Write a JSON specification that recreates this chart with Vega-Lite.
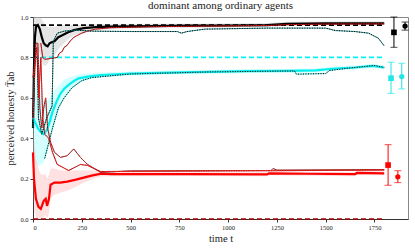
{
  "$schema": "https://vega.github.io/schema/vega-lite/v6.json",
  "width": 375,
  "height": 202,
  "autosize": "none",
  "padding": {"left": 33, "top": 17, "right": 7, "bottom": 30},
  "title": {"text": "dominant among ordinary agents", "font": "Liberation Serif", "fontSize": 11, "fontWeight": "normal", "color": "#222", "offset": 3},
  "config": {
    "view": {"stroke": "#888"},
    "axis": {"labelFont": "Liberation Serif", "labelFontSize": 6.5, "titleFont": "Liberation Serif", "titleFontSize": 10.5, "titleFontWeight": "normal", "domainColor": "#333", "tickColor": "#333", "tickSize": 3, "grid": false, "labelColor": "#222", "titleColor": "#222", "labelPadding": 2}
  },
  "datasets": {
    "lines": [
      {"s": "k_mean", "t": 0, "v": 0.45, "lo": 0.35, "hi": 1.0},
      {"s": "k_mean", "t": 5, "v": 0.75, "lo": 0.55, "hi": 1.0},
      {"s": "k_mean", "t": 10, "v": 0.9, "lo": 0.75, "hi": 1.0},
      {"s": "k_mean", "t": 15, "v": 0.95, "lo": 0.82, "hi": 1.0},
      {"s": "k_mean", "t": 25, "v": 0.96, "lo": 0.84, "hi": 1.0},
      {"s": "k_mean", "t": 35, "v": 0.94, "lo": 0.82, "hi": 1.0},
      {"s": "k_mean", "t": 45, "v": 0.9, "lo": 0.78, "hi": 0.99},
      {"s": "k_mean", "t": 55, "v": 0.87, "lo": 0.76, "hi": 0.97},
      {"s": "k_mean", "t": 65, "v": 0.86, "lo": 0.76, "hi": 0.96},
      {"s": "k_mean", "t": 75, "v": 0.855, "lo": 0.77, "hi": 0.95},
      {"s": "k_mean", "t": 85, "v": 0.87, "lo": 0.79, "hi": 0.95},
      {"s": "k_mean", "t": 95, "v": 0.875, "lo": 0.8, "hi": 0.95},
      {"s": "k_mean", "t": 110, "v": 0.88, "lo": 0.81, "hi": 0.95},
      {"s": "k_mean", "t": 130, "v": 0.9, "lo": 0.84, "hi": 0.955},
      {"s": "k_mean", "t": 150, "v": 0.91, "lo": 0.86, "hi": 0.96},
      {"s": "k_mean", "t": 180, "v": 0.925, "lo": 0.89, "hi": 0.96},
      {"s": "k_mean", "t": 210, "v": 0.935, "lo": 0.91, "hi": 0.96},
      {"s": "k_mean", "t": 260, "v": 0.945, "lo": 0.925, "hi": 0.962},
      {"s": "k_mean", "t": 320, "v": 0.95, "lo": 0.935, "hi": 0.965},
      {"s": "k_mean", "t": 400, "v": 0.952, "lo": 0.94, "hi": 0.965},
      {"s": "k_mean", "t": 600, "v": 0.955, "lo": 0.945, "hi": 0.966},
      {"s": "k_mean", "t": 800, "v": 0.957, "lo": 0.947, "hi": 0.967},
      {"s": "k_mean", "t": 1000, "v": 0.958, "lo": 0.948, "hi": 0.968},
      {"s": "k_mean", "t": 1200, "v": 0.96, "lo": 0.95, "hi": 0.97},
      {"s": "k_mean", "t": 1300, "v": 0.966, "lo": 0.956, "hi": 0.976},
      {"s": "k_mean", "t": 1500, "v": 0.968, "lo": 0.958, "hi": 0.978},
      {"s": "k_mean", "t": 1800, "v": 0.969, "lo": 0.959, "hi": 0.979},
      {"s": "c_mean", "t": 0, "v": 0.5, "lo": 0.3, "hi": 0.75},
      {"s": "c_mean", "t": 10, "v": 0.48, "lo": 0.28, "hi": 0.72},
      {"s": "c_mean", "t": 25, "v": 0.45, "lo": 0.26, "hi": 0.68},
      {"s": "c_mean", "t": 40, "v": 0.43, "lo": 0.27, "hi": 0.62},
      {"s": "c_mean", "t": 55, "v": 0.42, "lo": 0.28, "hi": 0.58},
      {"s": "c_mean", "t": 70, "v": 0.44, "lo": 0.32, "hi": 0.58},
      {"s": "c_mean", "t": 85, "v": 0.48, "lo": 0.38, "hi": 0.6},
      {"s": "c_mean", "t": 100, "v": 0.53, "lo": 0.44, "hi": 0.62},
      {"s": "c_mean", "t": 120, "v": 0.58, "lo": 0.5, "hi": 0.65},
      {"s": "c_mean", "t": 140, "v": 0.62, "lo": 0.56, "hi": 0.67},
      {"s": "c_mean", "t": 160, "v": 0.645, "lo": 0.6, "hi": 0.69},
      {"s": "c_mean", "t": 190, "v": 0.67, "lo": 0.64, "hi": 0.7},
      {"s": "c_mean", "t": 230, "v": 0.695, "lo": 0.67, "hi": 0.715},
      {"s": "c_mean", "t": 280, "v": 0.705, "lo": 0.69, "hi": 0.72},
      {"s": "c_mean", "t": 350, "v": 0.713, "lo": 0.7, "hi": 0.725},
      {"s": "c_mean", "t": 500, "v": 0.72, "lo": 0.71, "hi": 0.73},
      {"s": "c_mean", "t": 700, "v": 0.725, "lo": 0.715, "hi": 0.735},
      {"s": "c_mean", "t": 900, "v": 0.728, "lo": 0.718, "hi": 0.738},
      {"s": "c_mean", "t": 1100, "v": 0.732, "lo": 0.722, "hi": 0.742},
      {"s": "c_mean", "t": 1300, "v": 0.733, "lo": 0.723, "hi": 0.743},
      {"s": "c_mean", "t": 1450, "v": 0.736, "lo": 0.726, "hi": 0.746},
      {"s": "c_mean", "t": 1550, "v": 0.745, "lo": 0.735, "hi": 0.755},
      {"s": "c_mean", "t": 1650, "v": 0.75, "lo": 0.74, "hi": 0.76},
      {"s": "c_mean", "t": 1740, "v": 0.758, "lo": 0.748, "hi": 0.768},
      {"s": "c_mean", "t": 1800, "v": 0.75, "lo": 0.74, "hi": 0.76},
      {"s": "r_mean", "t": 0, "v": 0.33, "lo": 0.15, "hi": 0.5},
      {"s": "r_mean", "t": 5, "v": 0.2, "lo": 0.05, "hi": 0.4},
      {"s": "r_mean", "t": 15, "v": 0.1, "lo": 0.0, "hi": 0.3},
      {"s": "r_mean", "t": 28, "v": 0.06, "lo": 0.0, "hi": 0.25},
      {"s": "r_mean", "t": 40, "v": 0.05, "lo": 0.0, "hi": 0.22},
      {"s": "r_mean", "t": 55, "v": 0.09, "lo": 0.01, "hi": 0.22},
      {"s": "r_mean", "t": 65, "v": 0.1, "lo": 0.02, "hi": 0.22},
      {"s": "r_mean", "t": 72, "v": 0.065, "lo": 0.0, "hi": 0.2},
      {"s": "r_mean", "t": 82, "v": 0.1, "lo": 0.03, "hi": 0.22},
      {"s": "r_mean", "t": 90, "v": 0.17, "lo": 0.1, "hi": 0.25},
      {"s": "r_mean", "t": 110, "v": 0.18, "lo": 0.12, "hi": 0.25},
      {"s": "r_mean", "t": 140, "v": 0.18, "lo": 0.13, "hi": 0.24},
      {"s": "r_mean", "t": 175, "v": 0.185, "lo": 0.14, "hi": 0.24},
      {"s": "r_mean", "t": 220, "v": 0.195, "lo": 0.16, "hi": 0.24},
      {"s": "r_mean", "t": 260, "v": 0.205, "lo": 0.18, "hi": 0.24},
      {"s": "r_mean", "t": 300, "v": 0.215, "lo": 0.195, "hi": 0.24},
      {"s": "r_mean", "t": 350, "v": 0.225, "lo": 0.21, "hi": 0.24},
      {"s": "r_mean", "t": 400, "v": 0.222, "lo": 0.212, "hi": 0.234},
      {"s": "r_mean", "t": 800, "v": 0.222, "lo": 0.213, "hi": 0.232},
      {"s": "r_mean", "t": 1200, "v": 0.221, "lo": 0.212, "hi": 0.231},
      {"s": "r_mean", "t": 1210, "v": 0.226, "lo": 0.216, "hi": 0.236},
      {"s": "r_mean", "t": 1400, "v": 0.224, "lo": 0.214, "hi": 0.234},
      {"s": "r_mean", "t": 1650, "v": 0.222, "lo": 0.212, "hi": 0.232},
      {"s": "r_mean", "t": 1660, "v": 0.228, "lo": 0.218, "hi": 0.238},
      {"s": "r_mean", "t": 1800, "v": 0.226, "lo": 0.216, "hi": 0.236},
      {"s": "k_a", "t": 40, "v": 0.87}, {"s": "k_a", "t": 50, "v": 0.8}, {"s": "k_a", "t": 60, "v": 0.79},
      {"s": "k_a", "t": 124, "v": 0.8}, {"s": "k_a", "t": 135, "v": 0.82}, {"s": "k_a", "t": 150, "v": 0.83},
      {"s": "k_a", "t": 160, "v": 0.85}, {"s": "k_a", "t": 175, "v": 0.86}, {"s": "k_a", "t": 190, "v": 0.88},
      {"s": "k_a", "t": 210, "v": 0.9}, {"s": "k_a", "t": 230, "v": 0.91}, {"s": "k_a", "t": 250, "v": 0.92},
      {"s": "k_a", "t": 280, "v": 0.93}, {"s": "k_a", "t": 320, "v": 0.94}, {"s": "k_a", "t": 400, "v": 0.947},
      {"s": "k_a", "t": 600, "v": 0.952}, {"s": "k_a", "t": 900, "v": 0.955}, {"s": "k_a", "t": 1200, "v": 0.958},
      {"s": "k_a", "t": 1300, "v": 0.962}, {"s": "k_a", "t": 1500, "v": 0.965}, {"s": "k_a", "t": 1800, "v": 0.966},
      {"s": "k_b", "t": 0, "v": 0.45}, {"s": "k_b", "t": 8, "v": 0.8}, {"s": "k_b", "t": 22, "v": 0.8},
      {"s": "k_b", "t": 28, "v": 0.5}, {"s": "k_b", "t": 45, "v": 0.42}, {"s": "k_b", "t": 70, "v": 0.5},
      {"s": "k_b", "t": 98, "v": 0.56}, {"s": "k_b", "t": 104, "v": 0.88}, {"s": "k_b", "t": 125, "v": 0.92},
      {"s": "k_b", "t": 160, "v": 0.93}, {"s": "k_b", "t": 220, "v": 0.935}, {"s": "k_b", "t": 300, "v": 0.93},
      {"s": "k_b", "t": 500, "v": 0.928}, {"s": "k_b", "t": 740, "v": 0.928}, {"s": "k_b", "t": 760, "v": 0.92},
      {"s": "k_b", "t": 790, "v": 0.928}, {"s": "k_b", "t": 880, "v": 0.94}, {"s": "k_b", "t": 1200, "v": 0.945},
      {"s": "k_b", "t": 1500, "v": 0.945}, {"s": "k_b", "t": 1550, "v": 0.933}, {"s": "k_b", "t": 1650, "v": 0.928},
      {"s": "k_b", "t": 1720, "v": 0.92}, {"s": "k_b", "t": 1770, "v": 0.895}, {"s": "k_b", "t": 1800, "v": 0.857},
      {"s": "c_b", "t": 60, "v": 0.3}, {"s": "c_b", "t": 100, "v": 0.45}, {"s": "c_b", "t": 130, "v": 0.55},
      {"s": "c_b", "t": 160, "v": 0.6}, {"s": "c_b", "t": 200, "v": 0.65}, {"s": "c_b", "t": 250, "v": 0.685},
      {"s": "c_b", "t": 300, "v": 0.7}, {"s": "c_b", "t": 500, "v": 0.718}, {"s": "c_b", "t": 900, "v": 0.728},
      {"s": "c_b", "t": 1340, "v": 0.733}, {"s": "c_b", "t": 1350, "v": 0.717}, {"s": "c_b", "t": 1500, "v": 0.72},
      {"s": "c_b", "t": 1520, "v": 0.735}, {"s": "c_b", "t": 1600, "v": 0.745}, {"s": "c_b", "t": 1700, "v": 0.755},
      {"s": "c_b", "t": 1750, "v": 0.76}, {"s": "c_b", "t": 1800, "v": 0.75},
      {"s": "r_a", "t": 0, "v": 0.5}, {"s": "r_a", "t": 15, "v": 0.87}, {"s": "r_a", "t": 25, "v": 0.87},
      {"s": "r_a", "t": 35, "v": 0.55}, {"s": "r_a", "t": 45, "v": 0.45}, {"s": "r_a", "t": 55, "v": 0.55},
      {"s": "r_a", "t": 65, "v": 0.6}, {"s": "r_a", "t": 75, "v": 0.45}, {"s": "r_a", "t": 90, "v": 0.38},
      {"s": "r_a", "t": 110, "v": 0.33}, {"s": "r_a", "t": 141, "v": 0.305}, {"s": "r_a", "t": 175, "v": 0.313},
      {"s": "r_a", "t": 209, "v": 0.347}, {"s": "r_a", "t": 243, "v": 0.305}, {"s": "r_a", "t": 277, "v": 0.272},
      {"s": "r_a", "t": 346, "v": 0.231}, {"s": "r_a", "t": 500, "v": 0.238}, {"s": "r_a", "t": 1000, "v": 0.24},
      {"s": "r_a", "t": 1220, "v": 0.24}, {"s": "r_a", "t": 1230, "v": 0.25}, {"s": "r_a", "t": 1250, "v": 0.242},
      {"s": "r_a", "t": 1800, "v": 0.245},
      {"s": "r_b", "t": 0, "v": 0.7}, {"s": "r_b", "t": 20, "v": 0.85}, {"s": "r_b", "t": 30, "v": 0.6},
      {"s": "r_b", "t": 40, "v": 0.8}, {"s": "r_b", "t": 50, "v": 0.5}, {"s": "r_b", "t": 60, "v": 0.42},
      {"s": "r_b", "t": 80, "v": 0.4}, {"s": "r_b", "t": 100, "v": 0.33}, {"s": "r_b", "t": 124, "v": 0.27},
      {"s": "r_b", "t": 183, "v": 0.24}, {"s": "r_b", "t": 243, "v": 0.27}, {"s": "r_b", "t": 280, "v": 0.265},
      {"s": "r_b", "t": 346, "v": 0.235}, {"s": "r_b", "t": 500, "v": 0.236}, {"s": "r_b", "t": 1000, "v": 0.238},
      {"s": "r_b", "t": 1800, "v": 0.242}
    ],
    "refs": [
      {"g": "k", "v": 0.96, "t0": 0, "t1": 1800},
      {"g": "c", "v": 0.8, "t0": 0, "t1": 1800},
      {"g": "r", "v": 0.0, "t0": 0, "t1": 1800}
    ],
    "errs": [
      {"g": "k", "m": "sq", "t": 1850, "v": 0.924, "lo": 0.85, "hi": 1.0},
      {"g": "k", "m": "ci", "t": 1907, "v": 0.955, "lo": 0.935, "hi": 0.975},
      {"g": "c", "m": "sq", "t": 1835, "v": 0.697, "lo": 0.622, "hi": 0.776},
      {"g": "c", "m": "ci", "t": 1890, "v": 0.705, "lo": 0.644, "hi": 0.771},
      {"g": "r", "m": "sq", "t": 1820, "v": 0.267, "lo": 0.167, "hi": 0.368},
      {"g": "r", "m": "ci", "t": 1870, "v": 0.209, "lo": 0.18, "hi": 0.239}
    ]
  },
  "layer": [
    {
      "data": {"name": "lines"},
      "transform": [{"filter": "datum.lo != null"}],
      "mark": {"type": "area", "opacity": 0.3},
      "encoding": {
        "x": {"field": "t", "type": "quantitative", "title": "time t", "scale": {"domain": [0, 1922], "nice": false, "zero": false},
              "axis": {"values": [0, 250, 500, 750, 1000, 1250, 1500, 1750], "format": "d", "titlePadding": 3}},
        "y": {"field": "lo", "type": "quantitative", "title": "perceived honesty T̄ab", "scale": {"domain": [0, 1], "nice": false},
              "axis": {"values": [0, 0.2, 0.4, 0.6, 0.8, 1.0], "format": ".1f", "titlePadding": 4}},
        "y2": {"field": "hi"},
        "color": {"field": "s", "type": "nominal", "legend": null,
                  "scale": {"domain": ["k_mean", "c_mean", "r_mean"], "range": ["#a8a8a8", "#70ffff", "#ff9a9a"]}}
      }
    },
    {
      "data": {"name": "refs"},
      "mark": {"type": "rule", "strokeWidth": 1.6, "strokeDash": [5, 3]},
      "encoding": {
        "x": {"field": "t0", "type": "quantitative", "title": "time t"},
        "x2": {"field": "t1"},
        "y": {"field": "v", "type": "quantitative", "title": "perceived honesty T̄ab"},
        "color": {"field": "g", "type": "nominal", "legend": null,
                  "scale": {"domain": ["k", "c", "r"], "range": ["#000000", "#00f5f5", "#b00000"]}}
      }
    },
    {
      "data": {"name": "lines"},
      "transform": [{"filter": "datum.lo != null"}],
      "mark": {"type": "line", "strokeWidth": 2.2},
      "encoding": {
        "x": {"field": "t", "type": "quantitative", "title": "time t"},
        "y": {"field": "v", "type": "quantitative", "title": "perceived honesty T̄ab"},
        "color": {"field": "s", "type": "nominal", "legend": null,
                  "scale": {"domain": ["k_mean", "c_mean", "r_mean"], "range": ["#000000", "#00f0f0", "#ff0000"]}}
      }
    },
    {
      "data": {"name": "lines"},
      "transform": [{"filter": "datum.lo == null"}],
      "mark": {"type": "line", "strokeWidth": 0.9},
      "encoding": {
        "x": {"field": "t", "type": "quantitative", "title": "time t"},
        "y": {"field": "v", "type": "quantitative", "title": "perceived honesty T̄ab"},
        "color": {"field": "s", "type": "nominal", "legend": null,
                  "scale": {"domain": ["k_a", "k_b", "c_b", "r_a", "r_b"], "range": ["#7a0000", "#1a8a8a", "#30d0d0", "#600000", "#a00000"]}}
      }
    },
    {
      "data": {"name": "lines"},
      "transform": [{"filter": "datum.lo == null"}],
      "mark": {"type": "line", "strokeWidth": 1, "strokeDash": [1, 1.5]},
      "encoding": {
        "x": {"field": "t", "type": "quantitative", "title": "time t"},
        "y": {"field": "v", "type": "quantitative", "title": "perceived honesty T̄ab"},
        "color": {"field": "s", "type": "nominal", "legend": null,
                  "scale": {"domain": ["k_a", "k_b", "c_b", "r_a", "r_b"], "range": ["#ff2020", "#000000", "#000000", "#ff4040", "#ff2020"]}}
      }
    },
    {
      "data": {"name": "errs"},
      "mark": {"type": "rule", "strokeWidth": 1},
      "encoding": {
        "x": {"field": "t", "type": "quantitative", "title": "time t"},
        "y": {"field": "lo", "type": "quantitative", "title": "perceived honesty T̄ab"},
        "y2": {"field": "hi"},
        "color": {"field": "g", "type": "nominal", "legend": null,
                  "scale": {"domain": ["k", "c", "r"], "range": ["#000000", "#22e5e5", "#ff0000"]}}
      }
    },
    {
      "data": {"name": "errs"},
      "mark": {"type": "tick", "orient": "horizontal", "size": 7, "thickness": 1},
      "encoding": {
        "x": {"field": "t", "type": "quantitative", "title": "time t"},
        "y": {"field": "lo", "type": "quantitative", "title": "perceived honesty T̄ab"},
        "color": {"field": "g", "type": "nominal", "legend": null,
                  "scale": {"domain": ["k", "c", "r"], "range": ["#000000", "#22e5e5", "#ff0000"]}}
      }
    },
    {
      "data": {"name": "errs"},
      "mark": {"type": "tick", "orient": "horizontal", "size": 7, "thickness": 1},
      "encoding": {
        "x": {"field": "t", "type": "quantitative", "title": "time t"},
        "y": {"field": "hi", "type": "quantitative", "title": "perceived honesty T̄ab"},
        "color": {"field": "g", "type": "nominal", "legend": null,
                  "scale": {"domain": ["k", "c", "r"], "range": ["#000000", "#22e5e5", "#ff0000"]}}
      }
    },
    {
      "data": {"name": "errs"},
      "transform": [{"filter": "datum.m == 'sq'"}],
      "mark": {"type": "square", "size": 32, "opacity": 1},
      "encoding": {
        "x": {"field": "t", "type": "quantitative", "title": "time t"},
        "y": {"field": "v", "type": "quantitative", "title": "perceived honesty T̄ab"},
        "color": {"field": "g", "type": "nominal", "legend": null,
                  "scale": {"domain": ["k", "c", "r"], "range": ["#000000", "#22e5e5", "#ff0000"]}}
      }
    },
    {
      "data": {"name": "errs"},
      "transform": [{"filter": "datum.m == 'ci'"}],
      "mark": {"type": "circle", "size": 28, "opacity": 1},
      "encoding": {
        "x": {"field": "t", "type": "quantitative", "title": "time t"},
        "y": {"field": "v", "type": "quantitative", "title": "perceived honesty T̄ab"},
        "color": {"field": "g", "type": "nominal", "legend": null,
                  "scale": {"domain": ["k", "c", "r"], "range": ["#000000", "#22e5e5", "#ff0000"]}}
      }
    }
  ],
  "resolve": {"scale": {"color": "independent"}}
}
